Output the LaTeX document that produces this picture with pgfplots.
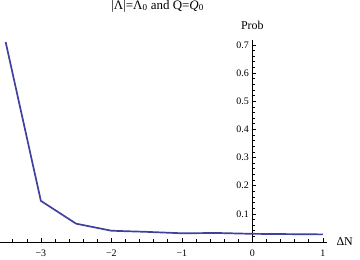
\documentclass[border=0pt]{standalone}
\usepackage{fontspec}
\setmainfont{Liberation Serif}
\usepackage{pgfplots}
\pgfplotsset{compat=1.18}
\definecolor{mma}{RGB}{64,64,158}
\begin{document}
\begin{tikzpicture}[x=1bp,y=1bp]
\useasboundingbox (0,0) rectangle (360,260);
\begin{axis}[
  at={(0bp,18bp)}, anchor=south west,
  scale only axis, width=327bp, height=202bp,
  axis lines=middle,
  enlargelimits=false,
  xmin=-3.58, xmax=1.06, ymin=0, ymax=0.717,
  xtick={-3,-2,-1,0,1},
  xticklabels={−3,−2,−1,0,1},
  hide obscured x ticks=false,
  minor xtick={-3.4,-3.2,-2.8,-2.6,-2.4,-2.2,-1.8,-1.6,-1.4,-1.2,-0.8,-0.6,-0.4,-0.2,0.2,0.4,0.6,0.8},
  ytick={0.1,0.2,0.3,0.4,0.5,0.6,0.7},
  yticklabels={0.1,0.2,0.3,0.4,0.5,0.6,0.7},
  minor ytick={0.02,0.04,0.06,0.08,0.12,0.14,0.16,0.18,0.22,0.24,0.26,0.28,0.32,0.34,0.36,0.38,0.42,0.44,0.46,0.48,0.52,0.54,0.56,0.58,0.62,0.64,0.66,0.68},
  major tick length=4bp, minor tick length=2.5bp,
  tick align=inside,
  tick style={black, line width=0.5bp},
  axis line style={-, black, line width=0.6bp},
  tick label style={font=\fontsize{10}{12}\selectfont},
  xticklabel style={yshift=-4bp},
  yticklabel style={xshift=0bp},
  xlabel={ΔN}, ylabel={Prob},
  label style={font=\fontsize{12}{14}\selectfont},
  x label style={at={(axis description cs:1,0)}, anchor=base west, xshift=6bp, yshift=-3bp},
  y label style={at={(axis cs:0,0.717)}, anchor=base, yshift=10bp},
  title={|Λ|=Λ\textsubscript{0} and Q=\textit{Q}\textsubscript{0}},
  title style={at={(axis description cs:0.482,1)}, anchor=base, yshift=25bp, font=\fontsize{13}{15}\selectfont},
  clip=false,
]
\addplot[mma, line width=1.7bp, line join=round] coordinates {
  (-3.5,0.710) (-3,0.146) (-2.5,0.065) (-2,0.040) (-1.5,0.036) (-1,0.031) (-0.5,0.032) (0,0.029) (0.5,0.028) (1,0.027)
};
\end{axis}
\end{tikzpicture}
\end{document}
